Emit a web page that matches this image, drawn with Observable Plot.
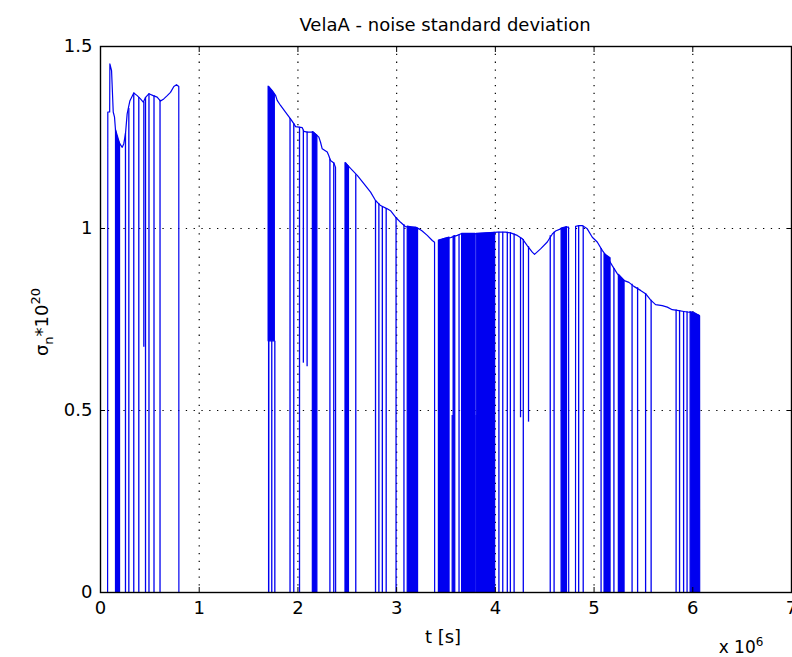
<!DOCTYPE html>
<html><head><meta charset="utf-8">
<script src="https://cdn.jsdelivr.net/npm/d3@7"></script>
<script src="https://cdn.jsdelivr.net/npm/@observablehq/plot@0.6"></script>
<style>
html,body{margin:0;padding:0;background:#fff;}
#chart{width:792px;height:657px;}
</style></head><body><div id="chart"></div>
<script>
// ---- texts ----
const titleText = "VelaA - noise standard deviation";
const xLabelText = "t [s]";
const xTicks = [0, 1, 2, 3, 4, 5, 6, 7];
const yTicks = [0, 0.5, 1, 1.5];
const gridX = [1, 2, 3, 4, 5, 6];
const gridY = [0.5, 1];

// ---- envelope of the noise curve: [t (x1e6 s), sigma_n*1e20] ----
const segment1 = [[0,0],[0.072,0],[0.074,1.32],[0.093,1.32],[0.095,1.452],[0.112,1.434],[0.129,1.32],[0.142,1.306],
  [0.152,1.27],[0.169,1.247],[0.195,1.233],[0.220,1.223],[0.236,1.233],[0.253,1.26],[0.270,1.315],[0.297,1.35],
  [0.337,1.372],[0.372,1.365],[0.405,1.356],[0.433,1.347],[0.456,1.36],[0.490,1.37],[0.534,1.365],[0.574,1.361],
  [0.608,1.35],[0.641,1.356],[0.676,1.365],[0.709,1.374],[0.743,1.39],[0.770,1.395],[0.793,1.39],[0.794,0],[1.703,0]];
const segment2 = [[1.705,1.39],[1.740,1.379],[1.773,1.366],[1.790,1.352],[1.824,1.338],[1.874,1.32],[1.925,1.301],
  [1.958,1.288],[1.976,1.28],[2.044,1.277],[2.060,1.267],[2.094,1.265],[2.155,1.265],[2.212,1.251],[2.229,1.237],
  [2.246,1.219],[2.297,1.21],[2.313,1.2],[2.330,1.187],[2.364,1.18],[2.381,1.168],[2.382,0],[2.482,0]];
const segment3 = [[2.483,1.18],[2.492,1.177],[2.533,1.165],[2.601,1.146],[2.668,1.123],[2.736,1.1],[2.786,1.077],
  [2.837,1.063],[2.905,1.054],[2.938,1.049],[2.989,1.031],[3.040,1.017],[3.090,1.005],[3.141,1.004],[3.191,1.004],
  [3.225,0.999],[3.259,0.993],[3.310,0.981],[3.361,0.967],[3.384,0.962],[3.385,0],[3.427,0]];
const segment4 = [[3.428,0.967],[3.478,0.972],[3.546,0.975],[3.614,0.981],[3.647,0.985],[3.782,0.985],[3.951,0.988],
  [4.019,0.99],[4.103,0.99],[4.154,0.988],[4.222,0.981],[4.273,0.972],[4.323,0.953],[4.374,0.935],[4.397,0.929],
  [4.458,0.944],[4.526,0.963],[4.577,0.985],[4.610,0.993],[4.661,0.999],[4.728,1.004],[4.742,1.004],[4.743,0],[4.812,0]];
const segment5 = [[4.813,1.006],[4.846,1.008],[4.880,1.008],[4.931,0.999],[4.982,0.976],[5.032,0.963],[5.083,0.94],
  [5.134,0.921],[5.184,0.898],[5.235,0.876],[5.286,0.859],[5.353,0.852],[5.403,0.841],[5.471,0.83],[5.522,0.821],
  [5.572,0.804],[5.623,0.791],[5.691,0.788],[5.742,0.784],[5.792,0.777],[5.843,0.775],[5.910,0.772],[5.961,0.77],
  [6.008,0.77],[6.069,0.76],[6.070,0],[7,0]];

// ---- single drop-outs: [t, low, high] ----
const drops = [[0.253,0,1.26],[0.287,0,1.33],[0.337,0,1.372],[0.388,0,1.36],[0.439,0.674,1.347],[0.456,0,1.36],
  [0.491,0,1.37],[0.542,0,1.365],[0.603,0,1.352],
  [1.703,0,0.69],[1.735,0,0.69],[1.766,0,0.69],[1.920,0,1.302],[1.958,0,1.288],[2.016,0,1.278],[2.055,0.63,1.27],
  [2.093,0.62,1.265],[2.324,0,1.19],[2.363,0,1.18],[2.586,0,1.148],[2.786,0,1.077],[2.820,0,1.068],[2.855,0,1.06],
  [2.894,0,1.055],[2.994,0,1.03],[3.074,0,1.01],[3.563,0,0.486],[3.632,0,0.982],[3.805,0,0.486],[4.036,0,0.99],
  [4.075,0,0.99],[4.121,0,0.99],[4.152,0,0.988],[4.190,0,0.985],[4.255,0.48,0.975],[4.283,0,0.97],[4.336,0.468,0.95],
  [4.556,0,0.98],[4.595,0,0.99],[4.844,0,1.008],[4.890,0,1.006],[5.071,0,0.945],[5.201,0,0.89],[5.385,0,0.847],
  [5.441,0,0.837],[5.522,0,0.821],[5.578,0,0.803],[5.831,0,0.776],[5.866,0,0.775],[5.907,0,0.772],[5.942,0,0.771]];

// ---- dense drop-out bursts (look filled): [t0, t1, low, high0, high1] ----
const bursts = [[0.157,0.198,0,1.27,1.233],[1.703,1.766,0.69,1.39,1.368],[2.151,2.197,0,1.265,1.255],
  [2.482,2.517,0,1.18,1.17],[3.112,3.217,0,1.005,1.0],[3.428,3.536,0,0.967,0.975],[3.577,3.594,0,0.978,0.979],
  [3.663,3.799,0,0.985,0.985],[3.811,3.998,0,0.985,0.988],[4.671,4.726,0,1.0,1.004],[5.106,5.167,0,0.93,0.918],
  [5.251,5.309,0,0.873,0.857],[5.978,6.069,0,0.77,0.76]];

// tables for the library
const envelope = [...segment1, ...segment2, ...segment3, ...segment4, ...segment5].map(([t, s]) => ({t, s}));
const dropRows = drops.map(([t, lo, hi]) => ({t, lo, hi}));
const burstRows = bursts.flatMap(([t0, t1, lo, h0, h1], i) => [{id: i, t: t0, lo, hi: h0}, {id: i, t: t1, lo, hi: h1}]);

const BLUE = "#0000f0";
const FONT = "DejaVu Sans";

const plot = Plot.plot({
  width: 792, height: 657,
  marginLeft: 100, marginRight: 1, marginTop: 46, marginBottom: 65,
  style: {fontFamily: FONT, fontSize: "18px", background: "white", color: "black", overflow: "visible"},
  x: {domain: [0, 7]},
  y: {domain: [0, 1.5]},
  marks: [
    Plot.ruleX(gridX, {stroke: "black", strokeWidth: 1.2, strokeDasharray: "1.3,6.5"}),
    Plot.ruleY(gridY, {stroke: "black", strokeWidth: 1.2, strokeDasharray: "1.3,6.5"}),
    Plot.areaY(burstRows, {x: "t", y1: "lo", y2: "hi", z: "id", fill: BLUE, stroke: BLUE, strokeWidth: 1.2}),
    Plot.ruleX(dropRows, {x: "t", y1: "lo", y2: "hi", stroke: BLUE, strokeWidth: 1.3}),
    Plot.line(envelope, {x: "t", y: "s", stroke: BLUE, strokeWidth: 1.2}),
    Plot.frame({stroke: "black", strokeWidth: 1.4}),
    Plot.axisX(xTicks, {anchor: "bottom", tickSize: -5, tickPadding: 14, tickFormat: d => String(d), label: null, fontSize: 18}),
    Plot.axisX(xTicks, {anchor: "top", tickSize: -5, fill: "none", label: null}),
    Plot.axisY(yTicks, {anchor: "left", tickSize: -5, tickPadding: 13, tickFormat: d => String(d), label: null, fontSize: 18}),
    Plot.axisY(yTicks, {anchor: "right", tickSize: -5, fill: "none", label: null})
  ]
});
document.getElementById("chart").appendChild(plot);

const svg = d3.select(plot);
svg.append("text").attr("x", 445).attr("y", 31).attr("text-anchor", "middle")
  .attr("font-family", FONT).attr("font-size", 18).attr("fill", "black").text(titleText);
svg.append("text").attr("x", 443).attr("y", 643).attr("text-anchor", "middle")
  .attr("font-family", FONT).attr("font-size", 18).attr("fill", "black").text(xLabelText);
const mult = svg.append("text").attr("x", 741).attr("y", 653)
  .attr("font-family", FONT).attr("font-size", 17).attr("fill", "black");
mult.append("tspan").text("x 10");
mult.append("tspan").attr("dy", -7).attr("font-size", 12).text("6");
const yl = svg.append("text").attr("transform", "translate(48,322) rotate(-90)").attr("text-anchor", "middle")
  .attr("font-family", FONT).attr("font-size", 18).attr("fill", "black");
yl.append("tspan").text("σ");
yl.append("tspan").attr("dy", 5).attr("font-size", 13).text("n");
yl.append("tspan").attr("dy", -5).text("*10");
yl.append("tspan").attr("dy", -8).attr("font-size", 13).text("20");
</script></body></html>
